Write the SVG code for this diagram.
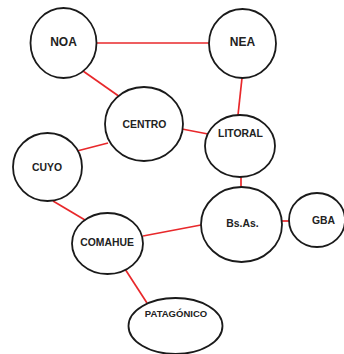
<svg xmlns="http://www.w3.org/2000/svg" width="344" height="354" viewBox="0 0 344 354">
  <style>
    .node ellipse { fill: #ffffff; stroke: #1a1a1a; stroke-width: 1.8; }
    .node text { font-family: "Liberation Sans", Arial, sans-serif; font-weight: bold; font-size: 10.4px; fill: #222222; text-anchor: middle; dominant-baseline: central; }
    .node text.big { font-size: 12px; }
    #edges line { stroke: #e8282b; stroke-width: 1.7; }
  </style>
  <rect width="344" height="354" fill="#ffffff"/>
  <g id="edges">
    <line x1="97" y1="43" x2="209" y2="43"/>
    <line x1="83" y1="71" x2="120" y2="97"/>
    <line x1="242" y1="78" x2="238" y2="115"/>
    <line x1="182" y1="129" x2="208" y2="134"/>
    <line x1="108" y1="143" x2="77" y2="151"/>
    <line x1="241" y1="177" x2="241" y2="187"/>
    <line x1="282" y1="221" x2="289" y2="221"/>
    <line x1="53" y1="201" x2="85" y2="220"/>
    <line x1="143" y1="236" x2="201" y2="225"/>
    <line x1="125" y1="269" x2="147" y2="303"/>
  </g>
  <g id="noa" class="node">
    <ellipse cx="63.5" cy="43" rx="33" ry="35"/>
    <text class="big" x="63.5" y="42">NOA</text>
  </g>
  <g id="nea" class="node">
    <ellipse cx="242.5" cy="43.5" rx="33.5" ry="34.5"/>
    <text class="big" x="242.5" y="42">NEA</text>
  </g>
  <g id="centro" class="node">
    <ellipse cx="144" cy="124" rx="39" ry="37"/>
    <text x="144.5" y="124">CENTRO</text>
  </g>
  <g id="litoral" class="node">
    <ellipse cx="240" cy="146" rx="35" ry="31"/>
    <text x="240.5" y="133">LITORAL</text>
  </g>
  <g id="cuyo" class="node">
    <ellipse cx="47.5" cy="167" rx="34.5" ry="34"/>
    <text x="47" y="167">CUYO</text>
  </g>
  <g id="bsas" class="node">
    <ellipse cx="241.5" cy="224.5" rx="40.5" ry="37.5"/>
    <text x="242.5" y="223">Bs.As.</text>
  </g>
  <g id="gba" class="node">
    <ellipse cx="317" cy="220" rx="28" ry="27"/>
    <text x="323.5" y="220">GBA</text>
  </g>
  <g id="comahue" class="node">
    <ellipse cx="107.5" cy="243.5" rx="35.5" ry="30.5"/>
    <text x="107" y="242">COMAHUE</text>
  </g>
  <g id="patagonico" class="node">
    <ellipse cx="175.5" cy="326" rx="47" ry="28"/>
    <text x="176" y="313" style="font-size:9.5px">PATAGÓNICO</text>
  </g>
</svg>
